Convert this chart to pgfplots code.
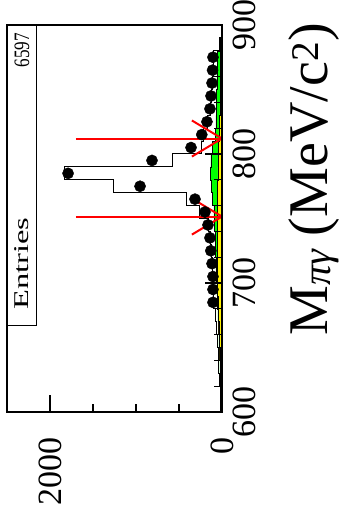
\documentclass[border=0pt]{standalone}
\usepackage{fontspec}
\setmainfont{Liberation Serif}
\usepackage{graphicx}
\usepackage{pgfplots}
\pgfplotsset{compat=1.18}
\begin{document}
\rotatebox{90}{%
\begin{tikzpicture}
\path[use as bounding box] (0,0) rectangle (525pt,341pt);
\begin{axis}[
 at={(113pt,119pt)}, anchor=south west,
 scale only axis, width=387pt, height=215pt,
 xmin=600, xmax=900, ymin=0, ymax=2500,
 axis line style={line width=1.3pt},
 xtick={600,700,800,900}, minor xtick={620,640,660,680,720,740,760,780,820,840,860,880},
 ytick={0,2000}, minor ytick={500,1000,1500},
 tick pos=left, tick align=inside,
 major tick length=17pt, minor tick length=8pt,
 tick style={black, line width=1.3pt},
 /pgf/number format/assume math mode=true,
 /pgf/number format/1000 sep={},
 ticklabel style={font=\fontsize{34}{34}\selectfont, inner sep=0pt},
 xticklabel style={yshift=-11pt},
 yticklabel style={xshift=-25pt},
 xlabel={M\raisebox{-2pt}{\fontsize{40}{40}\selectfont\itshape πγ} (MeV/c\textsuperscript{2})},
 xlabel style={font=\fontsize{56}{56}\selectfont, at={(axis description cs:1,0)}, anchor=base east, inner sep=0pt, yshift=-106pt, xshift=2pt},
 axis on top,
]
% green (stacked total of backgrounds)
\addplot[const plot, fill=green, draw=black, line width=0.5pt] coordinates {
(600,10)(610,15)(620,20)(630,25)(640,30)(650,36)(660,42)(670,48)(680,55)(690,60)
(700,65)(710,70)(720,75)(730,80)(740,85)(750,95)(760,115)(770,125)(780,135)(790,130)
(800,110)(810,80)(820,70)(830,65)(840,62)(850,60)(860,58)(870,55)(880,25)(890,10)(900,10)} \closedcycle;
% yellow
\addplot[const plot, fill=yellow, draw=black, line width=0.5pt] coordinates {
(600,8)(610,12)(620,16)(630,20)(640,25)(650,30)(660,35)(670,40)(680,45)(690,50)
(700,55)(710,55)(720,55)(730,55)(740,55)(750,55)(760,52)(770,50)(780,48)(790,45)
(800,40)(810,35)(820,30)(830,25)(840,22)(850,20)(860,18)(870,16)(880,10)(890,5)(900,5)} \closedcycle;
% MC total histogram
\addplot[const plot, black, line width=1pt] coordinates {
(600,12)(610,22)(620,30)(630,38)(640,45)(650,55)(660,65)(670,75)(680,95)(690,100)
(700,105)(710,110)(720,125)(730,135)(740,155)(750,260)(760,407)(770,1267)(780,1826)(790,570)
(800,233)(810,215)(820,165)(830,135)(840,120)(850,110)(860,102)(870,95)(880,25)(890,5)(900,5)};
% data
\addplot[only marks, mark=*, mark size=5.6pt, black] coordinates {
(685,105)(695,105)(705,105)(715,116)(725,130)(735,140)(745,163)(755,198)(765,314)(775,953)
(785,1790)(795,814)(805,360)(815,235)(825,175)(835,140)(845,128)(855,116)(865,110)(875,105)};
% arrows
\addplot[red, line width=2pt] coordinates {(751.5,1700)(751.5,0)};
\addplot[red, line width=2pt] coordinates {(737.5,350)(751.5,0)(765.5,350)};
\addplot[red, line width=2pt] coordinates {(812,1700)(812,0)};
\addplot[red, line width=2pt] coordinates {(798,350)(812,0)(826,350)};
% stats box
\draw[line width=1pt, fill=white] (axis description cs:0.2248,0.8605) rectangle (axis description cs:1,1);
\node[anchor=west, inner sep=0pt, font=\fontsize{21}{21}\selectfont] at (axis description cs:0.2636,0.93) {\scalebox{1.55}[1]{Entries}};
\node[anchor=east, inner sep=0pt, font=\fontsize{22}{22}\selectfont] at (axis description cs:0.9793,0.93) {\scalebox{0.78}[1]{6597}};
\end{axis}
\end{tikzpicture}}
\end{document}
